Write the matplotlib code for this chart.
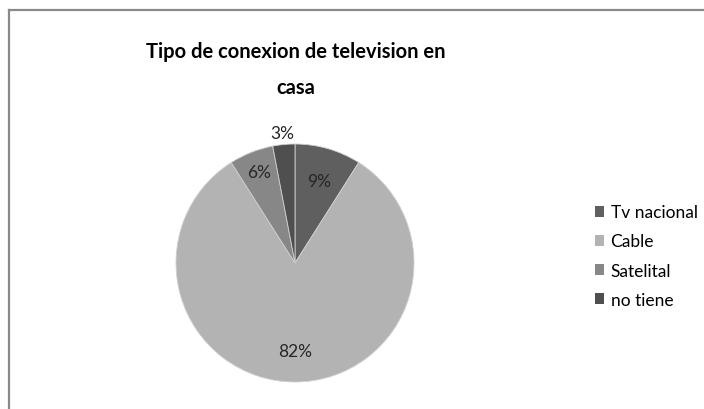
import matplotlib
matplotlib.use("Agg")
import matplotlib.pyplot as plt
import numpy as np
from matplotlib.patches import Rectangle

plt.rcParams['font.family'] = ['Lato', 'DejaVu Sans']

categories = ["Tv nacional", "Cable", "Satelital", "no tiene"]
values = [9, 82, 6, 3]
colors = ["#5f5f5f", "#b3b3b3", "#878787", "#4f4f4f"]
label_dist = [0.72, 0.74, 0.82, 1.1]

W, H = 704, 410
fig = plt.figure(figsize=(W / 100, H / 100), dpi=100)

# chart border as a frame axes: only top and left edges are inside the image
frame = fig.add_axes([8.5 / W, -0.05, 1.0, 1 - 11 / H + 0.05])
frame.set_xticks([])
frame.set_yticks([])
frame.patch.set_alpha(0)
for side in ("right", "bottom"):
    frame.spines[side].set_visible(False)
for side in ("top", "left"):
    frame.spines[side].set_color("#8a8a8a")
    frame.spines[side].set_linewidth(1.6)

cx, cy, r = 295, 264, 119
ax = fig.add_axes([(cx - r) / W, (H - cy - r) / H, 2 * r / W, 2 * r / H])
wedges, _ = ax.pie(values, colors=colors, startangle=90, counterclock=False,
                   radius=1.0, wedgeprops=dict(edgecolor="#d0d0d0", linewidth=0.6))
ax.set_xlim(-1, 1)
ax.set_ylim(-1, 1)
ax.set_aspect('equal')
ax.axis('off')

total = sum(values)
for w, v, d in zip(wedges, values, label_dist):
    ang = np.deg2rad((w.theta1 + w.theta2) / 2)
    ax.text(d * np.cos(ang), d * np.sin(ang), f"{round(100 * v / total)}%",
            ha='center', va='center', fontsize=12.5, color="#262626", clip_on=False)

fig.text(296 / W, 1 - 52 / H, "Tipo de conexion de television en",
         ha='center', va='center', fontsize=14.5, fontweight='bold', color="black")
fig.text(296 / W, 1 - 88 / H, "casa",
         ha='center', va='center', fontsize=14.5, fontweight='bold', color="black")

handles = [Rectangle((0, 0), 1, 1, facecolor=c, edgecolor='none') for c in colors]
fig.legend(handles, categories, loc='center left', bbox_to_anchor=(588 / W, 1 - 257 / H),
           frameon=False, fontsize=12.5, handlelength=0.55, handleheight=0.55,
           handletextpad=0.35, labelspacing=0.75, borderaxespad=0)

fig.savefig("out.png", dpi=100)
